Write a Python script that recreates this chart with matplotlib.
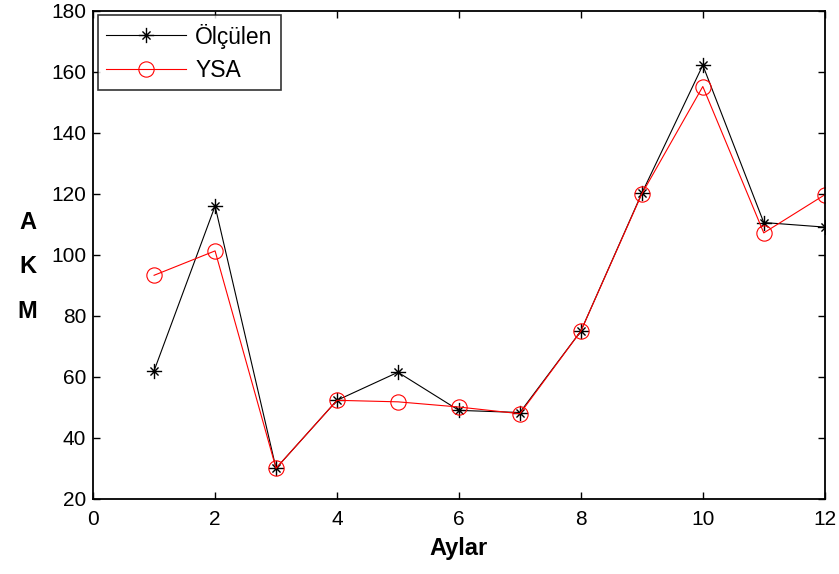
import matplotlib
matplotlib.use("Agg")
import matplotlib.pyplot as plt
from matplotlib.path import Path
import numpy as np

months = [1, 2, 3, 4, 5, 6, 7, 8, 9, 10, 11, 12]
measured = [62, 116, 30, 52.3, 61.5, 49, 48.3, 75, 120.2, 162.2, 110.6, 109.1]
ann = [93.3, 101.3, 30, 52.3, 51.8, 50.1, 47.9, 75, 120, 155.2, 107.2, 119.7]
xticks = [0, 2, 4, 6, 8, 10, 12]
yticks = [20, 40, 60, 80, 100, 120, 140, 160, 180]

plt.rcParams['font.family'] = ['Liberation Sans', 'DejaVu Sans']

# MATLAB-like asterisk marker (8 spokes)
verts, codes = [], []
for ang in np.arange(0, 180, 45):
    a = np.deg2rad(ang)
    r = 1.0 if ang % 90 == 0 else 0.75
    verts += [(-r * np.cos(a), -r * np.sin(a)), (r * np.cos(a), r * np.sin(a))]
    codes += [Path.MOVETO, Path.LINETO]
asterisk = Path(verts, codes)

fig = plt.figure(figsize=(8.39, 5.74), dpi=100)
ax = fig.add_axes([0.111, 0.131, 0.872, 0.850])

ax.plot(months, measured, color='black', lw=0.8, marker=asterisk, ms=11,
        markerfacecolor='none', markeredgecolor='black', markeredgewidth=1.0,
        label='Ölçülen')
ax.plot(months, ann, color='red', lw=0.8, marker='o', ms=11,
        markerfacecolor='none', markeredgecolor='red', markeredgewidth=0.8,
        label='YSA')

ax.set_xlim(0, 12)
ax.set_ylim(20, 180)
ax.set_xticks(xticks)
ax.set_yticks(yticks)
ax.tick_params(direction='in', top=True, right=True, length=5, width=1,
               labelsize=15, pad=5)
ax.tick_params(axis='x', pad=8)
for s in ax.spines.values():
    s.set_linewidth(1.3)

ax.set_xlabel('Aylar', fontsize=17, fontweight='bold', labelpad=6)
fig.text(0.033, 0.535, 'A\n\nK\n\nM', fontsize=17, fontweight='bold',
         ha='center', va='center', linespacing=0.96)

leg = ax.legend(loc='upper left', fontsize=16.5, frameon=True, fancybox=False,
                edgecolor='black', handlelength=3.5, borderaxespad=0.2,
                borderpad=0.35, labelspacing=0.45, handletextpad=0.4)
leg.get_frame().set_linewidth(1.2)

fig.savefig('out.png', dpi=100)
